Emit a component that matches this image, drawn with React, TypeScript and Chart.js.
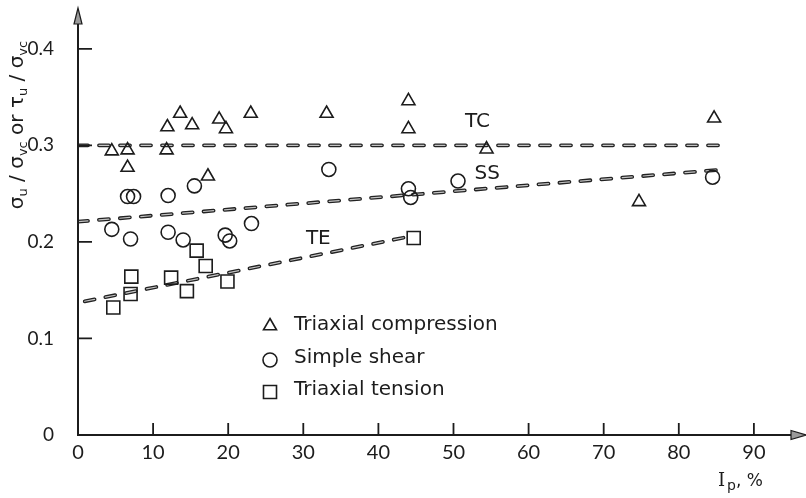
import React, { useEffect, useRef } from "react";
import { Chart, registerables } from "chart.js";
import { drawPoint } from "chart.js/helpers";

Chart.register(...registerables);

// ---------- data ----------
const xTickValues = [0, 10, 20, 30, 40, 50, 60, 70, 80, 90];
const xTickLabels = ["0", "10", "20", "30", "40", "50", "60", "70", "80", "90"];
const yTickValues = [0, 0.1, 0.2, 0.3, 0.4];
const yTickLabels = ["0", "0.1", "0.2", "0.3", "0.4"];

// Triaxial compression (triangles)
const tcX = [4.5, 6.6, 6.6, 11.9, 13.6, 15.2, 11.8, 18.8, 19.7, 17.3, 23.0, 33.1, 44.0, 44.0, 54.4, 84.7, 74.7];
const tcY = [0.294, 0.295, 0.277, 0.319, 0.333, 0.321, 0.295, 0.327, 0.317, 0.268, 0.333, 0.333, 0.346, 0.317, 0.296, 0.328, 0.2415];
// Simple shear (circles)
const ssX = [4.5, 7.0, 6.6, 7.4, 12.0, 15.5, 12.0, 14.0, 19.6, 20.2, 23.1, 33.4, 44.0, 44.3, 50.6, 84.5];
const ssY = [0.213, 0.203, 0.247, 0.247, 0.248, 0.258, 0.21, 0.202, 0.207, 0.201, 0.219, 0.275, 0.255, 0.246, 0.263, 0.267];
// Triaxial tension (squares)
const teX = [7.1, 7.0, 4.7, 12.4, 14.5, 15.8, 17.0, 19.9, 44.7];
const teY = [0.164, 0.146, 0.132, 0.163, 0.149, 0.191, 0.175, 0.159, 0.204];

// Trend lines
const tcLineX = [0, 86];
const tcLineY = [0.3, 0.3];
const ssLineX = [0, 86];
const ssLineY = [0.221, 0.275];
const teLineX = [0.9, 43.6];
const teLineY = [0.1385, 0.2047];

const lineLabelText = ["TC", "SS", "TE"];
const lineLabelX = [53.2, 54.5, 32.0];
const lineLabelY = [0.324, 0.271, 0.203];

const seriesNames = ["Triaxial compression", "Simple shear", "Triaxial tension"];

const xTitleMain = "I";
const xTitleSub = "p";
const xTitleRest = ", %";

// y title pieces: [text, isSubscript]
const yTitlePieces: [string, boolean][] = [
  ["σ", false], ["u", true], [" / ", false], ["σ", false], ["vc", true],
  [" or ", false], ["τ", false], ["u", true], [" / ", false], ["σ", false], ["vc", true],
];

// ---------- styling ----------
const INK = "#1c1c1c";
const FONT = '"DejaVu Sans", sans-serif';
const TICK_FONT = 'Lato, "DejaVu Sans", sans-serif';

const zip = (xs: number[], ys: number[]) => xs.map((x, i) => ({ x, y: ys[i] }));

const markerStyles = [
  { pointStyle: "triangle", radius: 7.5 },
  { pointStyle: "circle", radius: 7 },
  { pointStyle: "rect", radius: 9.2 },
];

const decorPlugin = {
  id: "decor",
  afterDraw(chart: any) {
    const { ctx, scales } = chart;
    const xs = scales.x;
    const ys = scales.y;
    const x0 = xs.getPixelForValue(0);
    const y0 = ys.getPixelForValue(0);
    ctx.save();
    ctx.strokeStyle = INK;
    ctx.fillStyle = INK;
    ctx.lineWidth = 2;
    ctx.lineCap = "butt";
    // axes
    ctx.beginPath();
    ctx.moveTo(x0, y0 + 1);
    ctx.lineTo(x0, 22);
    ctx.moveTo(x0 - 1, y0);
    ctx.lineTo(794, y0);
    ctx.stroke();
    // arrow heads
    ctx.fillStyle = "#9a9a9a";
    ctx.lineWidth = 1.2;
    ctx.beginPath();
    ctx.moveTo(x0, 8);
    ctx.lineTo(x0 - 4, 24);
    ctx.lineTo(x0 + 4, 24);
    ctx.closePath();
    ctx.fill();
    ctx.stroke();
    ctx.beginPath();
    ctx.moveTo(806, y0);
    ctx.lineTo(791, y0 - 4.5);
    ctx.lineTo(791, y0 + 4.5);
    ctx.closePath();
    ctx.fill();
    ctx.stroke();
    // inward ticks
    ctx.lineWidth = 1.8;
    ctx.beginPath();
    xTickValues.forEach((v) => {
      if (v === 0) return;
      const p = xs.getPixelForValue(v);
      ctx.moveTo(p, y0);
      ctx.lineTo(p, y0 - 12);
    });
    yTickValues.forEach((v) => {
      if (v === 0) return;
      const p = ys.getPixelForValue(v);
      ctx.moveTo(x0, p);
      ctx.lineTo(x0 + 14, p);
    });
    ctx.stroke();

    ctx.fillStyle = INK;
    // line labels
    ctx.font = `20px ${FONT}`;
    ctx.textAlign = "center";
    ctx.textBaseline = "middle";
    lineLabelText.forEach((t, i) => {
      ctx.fillText(t, xs.getPixelForValue(lineLabelX[i]), ys.getPixelForValue(lineLabelY[i]));
    });

    // legend
    const legX = 270;
    const legMarkerY = [326, 360, 392];
    const legTextY = [330, 363, 395];
    ctx.textAlign = "left";
    ctx.textBaseline = "alphabetic";
    ctx.font = `20px ${FONT}`;
    seriesNames.forEach((name, i) => {
      ctx.save();
      ctx.strokeStyle = INK;
      ctx.fillStyle = "rgba(0,0,0,0)";
      ctx.lineWidth = 1.6;
      drawPoint(ctx, { pointStyle: markerStyles[i].pointStyle, radius: markerStyles[i].radius, rotation: 0, borderWidth: 1.6 } as any, legX, legMarkerY[i]);
      ctx.restore();
      ctx.fillStyle = INK;
      ctx.fillText(name, 294, legTextY[i]);
    });

    // x-axis title
    let tx = 718;
    ctx.font = `18px "DejaVu Serif", serif`;
    ctx.fillText(xTitleMain, tx, 486);
    tx += ctx.measureText(xTitleMain).width + 2;
    ctx.font = `14px ${FONT}`;
    ctx.fillText(xTitleSub, tx, 490);
    tx += ctx.measureText(xTitleSub).width;
    ctx.font = `17px ${FONT}`;
    ctx.fillText(xTitleRest, tx, 486);

    // y-axis title (rotated)
    const mainSize = 20;
    const subSize = 13;
    let total = 0;
    yTitlePieces.forEach(([t, sub]) => {
      ctx.font = `${sub ? subSize : mainSize}px ${FONT}`;
      total += ctx.measureText(t).width;
    });
    ctx.translate(23, 125);
    ctx.rotate(-Math.PI / 2);
    let px = -total / 2;
    yTitlePieces.forEach(([t, sub]) => {
      ctx.font = `${sub ? subSize : mainSize}px ${FONT}`;
      ctx.fillText(t, px, sub ? 4 : 0);
      px += ctx.measureText(t).width;
    });
    ctx.restore();
  },
};

export default function App() {
  const ref = useRef<HTMLCanvasElement>(null);
  useEffect(() => {
    if (!ref.current) return;
    const markerCommon = {
      showLine: false,
      borderColor: INK,
      backgroundColor: "rgba(0,0,0,0)",
      pointBorderWidth: 1.6,
      order: 0,
    };
    const dashBase = {
      showLine: true,
      pointRadius: 0,
      borderDash: [10, 11],
      borderCapStyle: "round",
      fill: false,
    };
    const chart = new Chart(ref.current, {
      type: "scatter",
      data: {
        datasets: [
          { ...markerCommon, label: seriesNames[0], data: zip(tcX, tcY), pointStyle: "triangle", pointRadius: 7.5 },
          { ...markerCommon, label: seriesNames[1], data: zip(ssX, ssY), pointStyle: "circle", pointRadius: 7 },
          { ...markerCommon, label: seriesNames[2], data: zip(teX, teY), pointStyle: "rect", pointRadius: 9.2 },
          { ...dashBase, label: "TC", data: zip(tcLineX, tcLineY), borderColor: "#222", borderWidth: 3.8, order: 2 },
          { ...dashBase, label: "SS", data: zip(ssLineX, ssLineY), borderColor: "#222", borderWidth: 3.8, order: 2 },
          { ...dashBase, label: "TE", data: zip(teLineX, teLineY), borderColor: "#222", borderWidth: 3.8, order: 2 },
          { ...dashBase, label: "TC-i", data: zip(tcLineX, tcLineY), borderColor: "#c4c4c4", borderWidth: 1.2, order: 1 },
          { ...dashBase, label: "SS-i", data: zip(ssLineX, ssLineY), borderColor: "#c4c4c4", borderWidth: 1.2, order: 1 },
          { ...dashBase, label: "TE-i", data: zip(teLineX, teLineY), borderColor: "#c4c4c4", borderWidth: 1.2, order: 1 },
        ] as any,
      },
      options: {
        responsive: false,
        animation: false,
        devicePixelRatio: 1,
        layout: { padding: { top: 15, right: 2, left: 0, bottom: 0 } },
        plugins: { legend: { display: false }, tooltip: { enabled: false } },
        scales: {
          x: {
            type: "linear",
            min: 0,
            max: 95.5,
            grid: { display: false },
            border: { display: false },
            afterFit: (s: any) => {
              s.height = 63;
              s.paddingLeft = 0;
              s.paddingRight = 0;
              s.paddingTop = 0;
              s.paddingBottom = 0;
            },
            afterBuildTicks: (s: any) => { s.ticks = xTickValues.map((v) => ({ value: v })); },
            ticks: {
              padding: -2,
              color: INK,
              font: { family: TICK_FONT, size: 20 },
              maxRotation: 0,
              autoSkip: false,
              callback: (_v: any, i: number) => xTickLabels[i],
            },
          },
          y: {
            type: "linear",
            min: 0,
            max: 0.435,
            grid: { display: false },
            border: { display: false },
            afterFit: (s: any) => {
              s.width = 78;
              s.paddingLeft = 0;
              s.paddingRight = 0;
              s.paddingTop = 0;
              s.paddingBottom = 0;
            },
            afterBuildTicks: (s: any) => { s.ticks = yTickValues.map((v) => ({ value: v })); },
            ticks: {
              padding: 16,
              color: INK,
              font: { family: TICK_FONT, size: 19 },
              autoSkip: false,
              callback: (_v: any, i: number) => yTickLabels[i],
            },
          },
        },
      } as any,
      plugins: [decorPlugin],
    });
    return () => chart.destroy();
  }, []);
  return (
    <div style={{ position: "fixed", left: 0, top: 0, width: 806, height: 498, background: "#fff" }}>
      <canvas ref={ref} width={806} height={498} style={{ display: "block" }} />
    </div>
  );
}
